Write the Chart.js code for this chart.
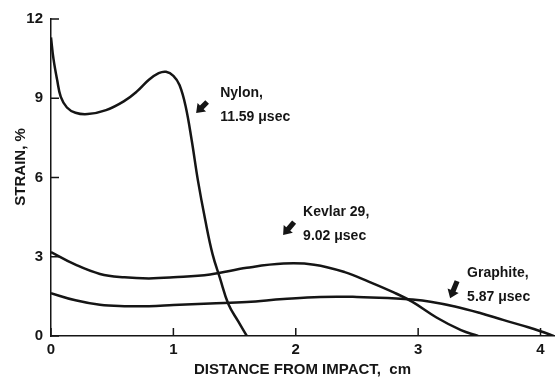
<!DOCTYPE html>
<html>
<head>
<meta charset="utf-8">
<script src="https://cdn.jsdelivr.net/npm/chart.js@4/dist/chart.umd.min.js"></script>
<style>
    body { margin: 0; background: #fff; }
</style>
</head>
<body>
<canvas id="chart" width="555" height="380"></canvas>
<script>
// strain profiles along the fibre, read at a fixed time after impact
var nylonDist     = [0, 0.02, 0.05, 0.08, 0.13, 0.2, 0.3, 0.45, 0.6, 0.7, 0.8, 0.88, 0.94, 1.0, 1.05, 1.1, 1.15, 1.2, 1.26, 1.32, 1.38, 1.45, 1.53, 1.6];
var nylonStrain   = [11.3, 10.5, 9.7, 9.05, 8.65, 8.45, 8.4, 8.55, 8.9, 9.25, 9.7, 9.95, 10.0, 9.85, 9.5, 8.7, 7.4, 5.9, 4.4, 3.1, 2.2, 1.2, 0.55, 0];

var kevlarDist    = [0, 0.2, 0.4, 0.6, 0.8, 1.0, 1.3, 1.6, 1.9, 2.15, 2.4, 2.6, 2.8, 2.95, 3.15, 3.35, 3.49];
var kevlarStrain  = [3.18, 2.7, 2.35, 2.22, 2.18, 2.22, 2.33, 2.58, 2.74, 2.7, 2.42, 2.05, 1.65, 1.3, 0.7, 0.22, 0];

var graphiteDist   = [0, 0.2, 0.4, 0.6, 0.8, 1.0, 1.3, 1.6, 1.9, 2.2, 2.5, 2.75, 2.95, 3.1, 3.3, 3.5, 3.7, 3.9, 4.0, 4.11];
var graphiteStrain = [1.62, 1.35, 1.18, 1.13, 1.13, 1.17, 1.23, 1.29, 1.4, 1.48, 1.48, 1.44, 1.38, 1.3, 1.12, 0.88, 0.6, 0.33, 0.18, 0];

var xTicks = [0, 1, 2, 3, 4];
var yTicks = [0, 3, 6, 9, 12];

// curve labels: anchor in data units, arrow in px relative to the anchor
var noteLines  = [["Nylon,", "11.59 \u03bcsec"], ["Kevlar 29,", "9.02 \u03bcsec"], ["Graphite,", "5.87 \u03bcsec"]];
var noteX      = [1.382, 2.06, 3.40];
var noteY      = [9.2, 4.69, 2.38];

var arrowTail = [[-13, 9], [-9, 10], [-10, 8]];
var arrowHead = [[-24, 20], [-20, 23], [-17, 25]];

var yTitle = 'STRAIN, %';
var yTitleAt = 6.4;

var ink = '#151515';
var font = "'Liberation Sans', Arial, sans-serif";

function points(xs, ys) {
    return xs.map(function (x, i) { return { x: x, y: ys[i] }; });
}

function curve(xs, ys) {
    return {
        data: points(xs, ys),
        borderColor: ink,
        borderWidth: 2.5,
        pointRadius: 0,
        fill: false,
        tension: 0.4
    };
}

function drawArrow(ctx, x0, y0, x1, y1) {
    var dx = x1 - x0, dy = y1 - y0;
    var len = Math.sqrt(dx * dx + dy * dy);
    var ux = dx / len, uy = dy / len;
    var nx = -uy, ny = ux;
    var headLen = 8, headW = 6, shaftW = 2.6;
    var bx = x1 - ux * headLen, by = y1 - uy * headLen;
    ctx.beginPath();
    ctx.moveTo(x0 + nx * shaftW, y0 + ny * shaftW);
    ctx.lineTo(bx + nx * shaftW, by + ny * shaftW);
    ctx.lineTo(bx + nx * headW, by + ny * headW);
    ctx.lineTo(x1, y1);
    ctx.lineTo(bx - nx * headW, by - ny * headW);
    ctx.lineTo(bx - nx * shaftW, by - ny * shaftW);
    ctx.lineTo(x0 - nx * shaftW, y0 - ny * shaftW);
    ctx.closePath();
    ctx.fill();
}

var inwardTicks = {
    id: 'inwardTicks',
    afterDatasetsDraw: function (chart) {
        var ctx = chart.ctx, xs = chart.scales.x, ys = chart.scales.y;
        ctx.save();
        ctx.strokeStyle = ink;
        ctx.lineWidth = 1.5;
        ctx.beginPath();
        xTicks.forEach(function (v) {
            var px = xs.getPixelForValue(v);
            ctx.moveTo(px, ys.bottom);
            ctx.lineTo(px, ys.bottom - 8);
        });
        yTicks.forEach(function (v) {
            var py = ys.getPixelForValue(v);
            ctx.moveTo(xs.left, py);
            ctx.lineTo(xs.left + 8, py);
        });
        ctx.stroke();
        ctx.restore();
    }
};

var curveNotes = {
    id: 'curveNotes',
    afterDraw: function (chart) {
        var ctx = chart.ctx, xs = chart.scales.x, ys = chart.scales.y;
        ctx.save();
        ctx.fillStyle = ink;
        ctx.font = 'bold 14px ' + font;
        ctx.textAlign = 'left';
        ctx.textBaseline = 'middle';
        noteLines.forEach(function (lines, i) {
            var px = xs.getPixelForValue(noteX[i]);
            var py = ys.getPixelForValue(noteY[i]);
            lines.forEach(function (t, k) {
                ctx.fillText(t, px, py + k * 24);
            });
            drawArrow(ctx, px + arrowTail[i][0], py + arrowTail[i][1], px + arrowHead[i][0], py + arrowHead[i][1]);
        });

        // vertical axis title, sits a little above the middle of the axis
        ctx.font = 'bold 15px ' + font;
        ctx.textAlign = 'center';
        ctx.translate(21, ys.getPixelForValue(yTitleAt));
        ctx.rotate(-Math.PI / 2);
        ctx.fillText(yTitle, 0, 0);
        ctx.restore();
    }
};

var ctx = document.getElementById('chart').getContext('2d');
var chart = new Chart(ctx, {
    type: 'line',
    data: {
        datasets: [
            curve(nylonDist, nylonStrain),
            curve(kevlarDist, kevlarStrain),
            curve(graphiteDist, graphiteStrain)
        ]
    },
    options: {
        responsive: false,
        animation: false,
        layout: { padding: { top: 19, right: 1, left: 0, bottom: 0 } },
        plugins: {
            legend: { display: false },
            tooltip: { enabled: false }
        },
        scales: {
            x: {
                type: 'linear',
                min: 0,
                max: 4.11,
                afterBuildTicks: function (scale) {
                    scale.ticks = xTicks.map(function (v) { return { value: v }; });
                },
                afterFit: function (scale) { scale.height = 44; },
                grid: { drawOnChartArea: false, drawTicks: false },
                border: { color: ink, width: 1.5 },
                ticks: {
                    color: ink,
                    padding: 5,
                    maxRotation: 0,
                    font: { family: font, size: 15, weight: 'bold' }
                },
                title: {
                    display: true,
                    text: 'DISTANCE FROM IMPACT,  cm',
                    color: ink,
                    padding: { top: 0, bottom: 1 },
                    font: { family: font, size: 15, weight: 'bold' }
                }
            },
            y: {
                min: 0,
                max: 12,
                afterBuildTicks: function (scale) {
                    scale.ticks = yTicks.map(function (v) { return { value: v }; });
                },
                afterFit: function (scale) { scale.width = 51; },
                grid: { drawOnChartArea: false, drawTicks: false },
                border: { color: ink, width: 1.5 },
                ticks: {
                    color: ink,
                    padding: 8,
                    font: { family: font, size: 15, weight: 'bold' }
                }
            }
        }
    },
    plugins: [inwardTicks, curveNotes]
});
</script>
</body>
</html>
